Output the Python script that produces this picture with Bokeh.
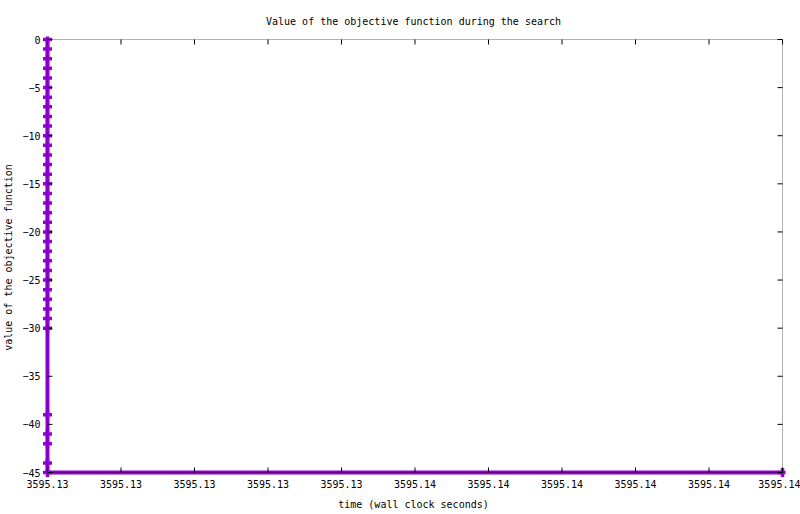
import math

from bokeh.plotting import figure
from bokeh.models import FixedTicker, Range1d, BoxAnnotation
from bokeh.embed import file_html
from bokeh.resources import INLINE

# wall clock time of each evaluation and the objective value found
times = [3595.130] * 36 + [3595.140]
objective = [0, -1, -2, -3, -4, -5, -6, -7, -8, -9, -10, -11, -12, -13, -14, -15,
             -16, -17, -18, -19, -20, -21, -22, -23, -24, -25, -26, -27, -28, -29,
             -30, -39, -41, -42, -44, -45, -45]

x_ticks = [3595.130, 3595.131, 3595.132, 3595.133, 3595.134, 3595.135,
           3595.136, 3595.137, 3595.138, 3595.139, 3595.140]
x_tick_labels = ["3595.13", "3595.13", "3595.13", "3595.13", "3595.13", "3595.14",
                 "3595.14", "3595.14", "3595.14", "3595.14", "3595.14"]
y_ticks = [0, -5, -10, -15, -20, -25, -30, -35, -40, -45]

FONT = "DejaVu Sans Mono"
SIZE = "10px"
PURPLE = "#9400D3"

# gnuplot border box is 737 x 433 px; leave a few px of room outside it so
# the markers sitting on the border are not cut by the frame
x0, x1 = x_ticks[0], x_ticks[-1]
y0, y1 = y_ticks[-1], y_ticks[0]
dx = (x1 - x0) / 737
dy = (y1 - y0) / 433
PAD_LB, PAD_RT = 6, 3

p = figure(width=800, height=514, output_backend="svg", toolbar_location=None,
           x_range=Range1d(x0 - PAD_LB * dx, x1 + PAD_RT * dx),
           y_range=Range1d(y0 - PAD_LB * dy, y1 + PAD_RT * dy),
           title="Value of the objective function during the search",
           min_border_left=45 - PAD_LB, min_border_right=18 - PAD_RT,
           min_border_top=39 - PAD_RT, min_border_bottom=42 - PAD_LB)

p.title.align = "center"
p.title.text_font = FONT
p.title.text_font_size = SIZE
p.title.text_font_style = "normal"
p.title.text_color = "black"
p.title.standoff = 19

p.grid.visible = False
p.outline_line_color = None

p.line(times, objective, line_color=PURPLE, line_width=4)
p.scatter(times, objective, marker="cross", size=9, line_color=PURPLE, line_width=3.5)

# border drawn over the data, as gnuplot does
p.add_layout(BoxAnnotation(left=x0, right=x1, bottom=y0, top=y1, level="overlay",
                           fill_alpha=0, line_color="black", line_width=1))

# inward ticks on all four sides of the border
p.ray(x=x_ticks, y=[y1] * len(x_ticks), length=5, length_units="screen",
      angle=-math.pi / 2, line_color="black", line_width=1, level="overlay")
p.ray(x=x_ticks, y=[y0] * len(x_ticks), length=5, length_units="screen",
      angle=math.pi / 2, line_color="black", line_width=1, level="overlay")
p.ray(x=[x1] * len(y_ticks), y=y_ticks, length=5, length_units="screen",
      angle=math.pi, line_color="black", line_width=1, level="overlay")
p.ray(x=[x0] * len(y_ticks), y=y_ticks, length=5, length_units="screen",
      angle=0, line_color="black", line_width=1, level="overlay")

# the axes only carry the labels; their standoff makes up for the padding
for ax in (p.xaxis[0], p.yaxis[0]):
    ax.axis_line_color = None
    ax.major_tick_in = 0
    ax.major_tick_out = 0
    ax.minor_tick_in = 0
    ax.minor_tick_out = 0
    ax.major_tick_line_color = None
    ax.minor_tick_line_color = None
    ax.major_label_text_font = FONT
    ax.major_label_text_font_size = SIZE
    ax.major_label_text_color = "black"
    ax.major_label_standoff = 7 - PAD_LB
    ax.axis_label_text_font = FONT
    ax.axis_label_text_font_size = SIZE
    ax.axis_label_text_font_style = "normal"
    ax.axis_label_text_color = "black"

p.xaxis.ticker = FixedTicker(ticks=x_ticks, minor_ticks=[])
p.xaxis.major_label_overrides = dict(zip(x_ticks, x_tick_labels))
p.xaxis.axis_label = "time (wall clock seconds)"
p.xaxis.axis_label_standoff = 8

p.yaxis.ticker = FixedTicker(ticks=y_ticks, minor_ticks=[])
p.yaxis.axis_label = "value of the objective function"
p.yaxis.axis_label_standoff = 5

open("out.html", "w").write(file_html(p, INLINE))
